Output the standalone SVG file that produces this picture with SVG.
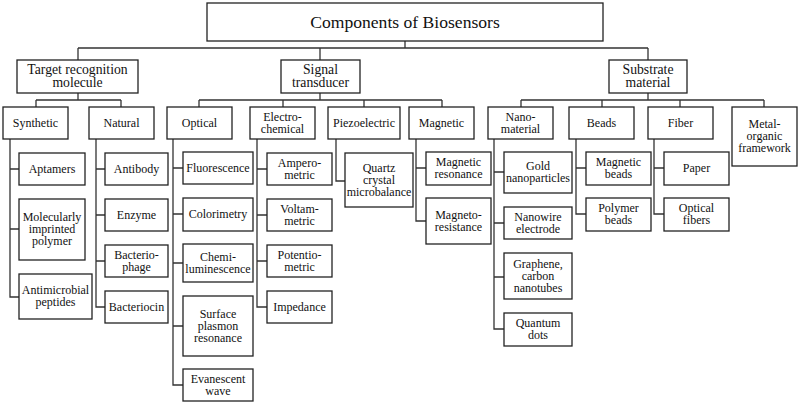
<svg xmlns="http://www.w3.org/2000/svg" width="800" height="405" viewBox="0 0 800 405">
<style>
.box{fill:#fff;stroke:#222;stroke-width:1.3}
.c{fill:none;stroke:#333;stroke-width:1.3}
text{font-family:'Liberation Serif','Times New Roman',serif;font-size:12px;text-anchor:middle;fill:#111}
.t1{font-size:13.7px}
.t0{font-size:17.6px}
</style>
<rect width="800" height="405" fill="#fff"/>
<g id="connectors">
<path class="c" d="M405,41V48M78,48H648M78,48V60M320,48V60M648,48V60"/>
<path class="c" d="M78,93V100M36,100H121M36,100V107M121,100V107"/>
<path class="c" d="M320,93V100M199,100H442M199,100V107M283,100V107M364,100V107M442,100V107"/>
<path class="c" d="M648,93V100M521,100H764M521,100V107M602,100V107M680,100V107M764,100V107"/>
<path class="c" d="M10,139V297H19M10,169H19M10,229H19"/>
<path class="c" d="M96,139V307H105M96,169H105M96,215H105M96,261H105"/>
<path class="c" d="M173,139V385H183M173,168H183M173,214H183M173,263H183M173,326H183"/>
<path class="c" d="M257,139V307H267M257,169H267M257,215H267M257,261H267"/>
<path class="c" d="M336,139V181H345"/>
<path class="c" d="M416,139V221H426M416,168H426"/>
<path class="c" d="M494,139V329H504M494,172H504M494,223H504M494,277H504"/>
<path class="c" d="M576,139V214H586M576,168H586"/>
<path class="c" d="M654,139V214H664M654,168H664"/>
</g>
<g id="root"><rect class="box" x="207" y="3" width="396" height="38"/><text class="t0" x="405" y="28">Components of Biosensors</text></g>
<g id="target"><rect class="box" x="17" y="60" width="121" height="33"/><text class="t1" x="77.5" y="74">Target recognition</text><text class="t1" x="77.5" y="87">molecule</text></g>
<g id="signal"><rect class="box" x="281" y="60" width="79" height="33"/><text class="t1" x="320.5" y="74">Signal</text><text class="t1" x="320.5" y="87">transducer</text></g>
<g id="substrate"><rect class="box" x="609" y="60" width="78" height="33"/><text class="t1" x="648" y="74">Substrate</text><text class="t1" x="648" y="87">material</text></g>
<g id="synthetic"><rect class="box" x="3" y="107" width="65" height="32"/><text x="35.5" y="127">Synthetic</text></g>
<g id="natural"><rect class="box" x="89" y="107" width="65" height="32"/><text x="121.5" y="127">Natural</text></g>
<g id="optical"><rect class="box" x="167" y="107" width="65" height="32"/><text x="199.5" y="127">Optical</text></g>
<g id="electrochemical"><rect class="box" x="250" y="107" width="65" height="32"/><text x="282.5" y="120.5">Electro-</text><text x="282.5" y="132.5">chemical</text></g>
<g id="piezoelectric"><rect class="box" x="328" y="107" width="72" height="32"/><text x="364" y="127">Piezoelectric</text></g>
<g id="magnetic"><rect class="box" x="409" y="107" width="65" height="32"/><text x="441.5" y="127">Magnetic</text></g>
<g id="nanomaterial"><rect class="box" x="488" y="107" width="65" height="32"/><text x="520.5" y="120.5">Nano-</text><text x="520.5" y="132.5">material</text></g>
<g id="beads"><rect class="box" x="569" y="107" width="65" height="32"/><text x="601.5" y="127">Beads</text></g>
<g id="fiber"><rect class="box" x="648" y="107" width="65" height="32"/><text x="680.5" y="127">Fiber</text></g>
<g id="mof"><rect class="box" x="732" y="107" width="65" height="59"/><text x="764.5" y="128">Metal-</text><text x="764.5" y="140">organic</text><text x="764.5" y="152">framework</text></g>
<g id="aptamers"><rect class="box" x="19" y="153" width="66" height="32"/><text x="52" y="172.5">Aptamers</text></g>
<g id="mip"><rect class="box" x="19" y="199" width="66" height="61"/><text x="52" y="221">Molecularly</text><text x="52" y="233">imprinted</text><text x="52" y="245">polymer</text></g>
<g id="amp"><rect class="box" x="19" y="274" width="73" height="45"/><text x="55.5" y="294">Antimicrobial</text><text x="55.5" y="306">peptides</text></g>
<g id="antibody"><rect class="box" x="105" y="153" width="63" height="32"/><text x="136.5" y="172.5">Antibody</text></g>
<g id="enzyme"><rect class="box" x="105" y="199" width="63" height="32"/><text x="136.5" y="218.5">Enzyme</text></g>
<g id="bacteriophage"><rect class="box" x="105" y="245" width="63" height="32"/><text x="136.5" y="258.5">Bacterio-</text><text x="136.5" y="270.5">phage</text></g>
<g id="bacteriocin"><rect class="box" x="105" y="291" width="63" height="32"/><text x="136.5" y="310.5">Bacteriocin</text></g>
<g id="fluorescence"><rect class="box" x="183" y="152" width="70" height="32"/><text x="218" y="171.5">Fluorescence</text></g>
<g id="colorimetry"><rect class="box" x="183" y="198" width="70" height="33"/><text x="218" y="218">Colorimetry</text></g>
<g id="chemi"><rect class="box" x="183" y="244" width="70" height="38"/><text x="218" y="260.5">Chemi-</text><text x="218" y="272.5">luminescence</text></g>
<g id="spr"><rect class="box" x="183" y="296" width="70" height="60"/><text x="218" y="317.5">Surface</text><text x="218" y="329.5">plasmon</text><text x="218" y="341.5">resonance</text></g>
<g id="evanescent"><rect class="box" x="183" y="369" width="70" height="32"/><text x="218" y="382.5">Evanescent</text><text x="218" y="394.5">wave</text></g>
<g id="amperometric"><rect class="box" x="267" y="153" width="65" height="32"/><text x="299.5" y="166.5">Ampero-</text><text x="299.5" y="178.5">metric</text></g>
<g id="voltammetric"><rect class="box" x="267" y="199" width="65" height="32"/><text x="299.5" y="212.5">Voltam-</text><text x="299.5" y="224.5">metric</text></g>
<g id="potentiometric"><rect class="box" x="267" y="245" width="65" height="32"/><text x="299.5" y="258.5">Potentio-</text><text x="299.5" y="270.5">metric</text></g>
<g id="impedance"><rect class="box" x="267" y="291" width="65" height="32"/><text x="299.5" y="310.5">Impedance</text></g>
<g id="qcm"><rect class="box" x="345" y="153" width="68" height="54"/><text x="379" y="171.5">Quartz</text><text x="379" y="183.5">crystal</text><text x="379" y="195.5">microbalance</text></g>
<g id="magres"><rect class="box" x="426" y="152" width="65" height="33"/><text x="458.5" y="166">Magnetic</text><text x="458.5" y="178">resonance</text></g>
<g id="magnetoresistance"><rect class="box" x="426" y="198" width="65" height="46"/><text x="458.5" y="218.5">Magneto-</text><text x="458.5" y="230.5">resistance</text></g>
<g id="gold"><rect class="box" x="504" y="152" width="68" height="41"/><text x="538" y="170">Gold</text><text x="538" y="182">nanoparticles</text></g>
<g id="nanowire"><rect class="box" x="504" y="207" width="68" height="32"/><text x="538" y="220.5">Nanowire</text><text x="538" y="232.5">electrode</text></g>
<g id="graphene"><rect class="box" x="504" y="253" width="68" height="46"/><text x="538" y="267.5">Graphene,</text><text x="538" y="279.5">carbon</text><text x="538" y="291.5">nanotubes</text></g>
<g id="quantum"><rect class="box" x="504" y="313" width="68" height="33"/><text x="538" y="327">Quantum</text><text x="538" y="339">dots</text></g>
<g id="magbeads"><rect class="box" x="586" y="152" width="65" height="33"/><text x="618.5" y="166">Magnetic</text><text x="618.5" y="178">beads</text></g>
<g id="polybeads"><rect class="box" x="586" y="198" width="65" height="33"/><text x="618.5" y="212">Polymer</text><text x="618.5" y="224">beads</text></g>
<g id="paper"><rect class="box" x="664" y="152" width="65" height="33"/><text x="696.5" y="172">Paper</text></g>
<g id="opticalfibers"><rect class="box" x="664" y="198" width="65" height="33"/><text x="696.5" y="212">Optical</text><text x="696.5" y="224">fibers</text></g>
</svg>
